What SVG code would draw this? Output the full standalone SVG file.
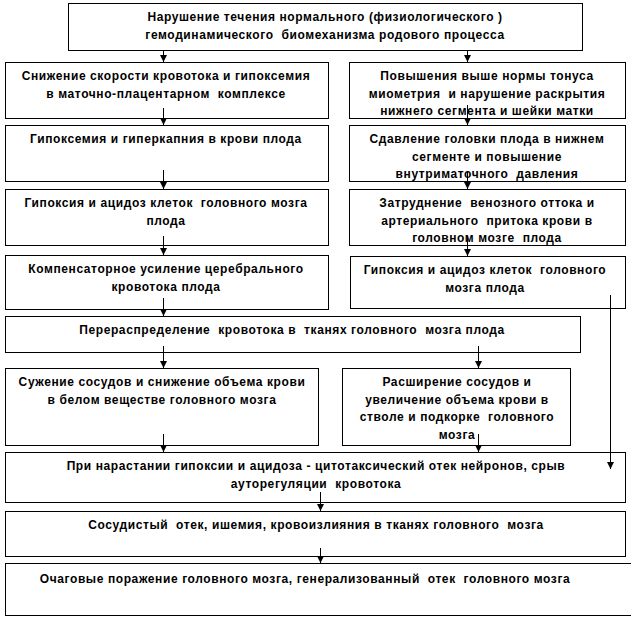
<svg xmlns="http://www.w3.org/2000/svg" width="631" height="618" viewBox="0 0 631 618" xml:space="preserve">
<style>
rect{fill:#fff;stroke:#000;stroke-width:1}
text{font-family:"Liberation Sans",Arial,sans-serif;font-weight:bold;font-size:12px;letter-spacing:0.6px;fill:#000;text-anchor:middle;white-space:pre}
.c line{stroke:#000;stroke-width:1;marker-end:url(#a)}
</style>
<defs>
<marker id="a" viewBox="0 0 8 8" refX="8" refY="4" markerWidth="7" markerHeight="7" markerUnits="userSpaceOnUse" orient="auto"><path d="M0,0 L8,4 L0,8 z" fill="#000"/></marker>
</defs>
<rect x="0" y="0" width="631" height="618" style="stroke:none"/>
<g id="n1"><rect x="68.5" y="3.5" width="514" height="47"/><text x="325" y="21">Нарушение течения нормального (физиологического )</text><text x="325" y="39">гемодинамического  биомеханизма родового процесса</text></g>
<g id="n2"><rect x="5.5" y="62.5" width="323" height="56"/><text x="166" y="80">Снижение скорости кровотока и гипоксемия</text><text x="166" y="97.5">в маточно-плацентарном  комплексе</text></g>
<g id="n3"><rect x="349.5" y="62.5" width="276" height="56"/><text x="487" y="80">Повышения выше нормы тонуса</text><text x="487" y="97.5">миометрия  и нарушение раскрытия</text><text x="487" y="115">нижнего сегмента и шейки матки</text></g>
<g id="n4"><rect x="5.5" y="125.5" width="323" height="56"/><text x="166" y="143">Гипоксемия и гиперкапния в крови плода</text></g>
<g id="n5"><rect x="349.5" y="125.5" width="276" height="56"/><text x="487" y="143">Сдавление головки плода в нижнем</text><text x="487" y="160.5">сегменте и повышение</text><text x="487" y="178">внутриматочного  давления</text></g>
<g id="n6"><rect x="5.5" y="189.5" width="323" height="56"/><text x="166" y="207">Гипоксия и ацидоз клеток  головного мозга</text><text x="166" y="224.5">плода</text></g>
<g id="n7"><rect x="349.5" y="189.5" width="276" height="56"/><text x="487" y="207">Затруднение  венозного оттока и</text><text x="487" y="224.5">артериального  притока крови в</text><text x="487" y="242">головном мозге  плода</text></g>
<g id="n8"><rect x="5.5" y="255.5" width="323" height="54"/><text x="166" y="273">Компенсаторное усиление церебрального</text><text x="166" y="290.5">кровотока плода</text></g>
<g id="n9"><rect x="350.5" y="256.5" width="275" height="52"/><text x="485" y="274">Гипоксия и ацидоз клеток  головного</text><text x="485" y="291.5">мозга плода</text></g>
<g id="n10"><rect x="5.5" y="316.5" width="575" height="36"/><text x="292" y="334">Перераспределение  кровотока в  тканях головного  мозга плода</text></g>
<g id="n11"><rect x="5.5" y="368.5" width="313" height="77"/><text x="162" y="386">Сужение сосудов и снижение объема крови</text><text x="162" y="403.5">в белом веществе головного мозга</text></g>
<g id="n12"><rect x="342.5" y="368.5" width="228" height="77"/><text x="457" y="386">Расширение сосудов и</text><text x="457" y="403.5">увеличение объема крови в</text><text x="457" y="421">стволе и подкорке  головного</text><text x="457" y="438.5">мозга</text></g>
<g id="n13"><rect x="5.5" y="452.5" width="620" height="50"/><text x="316" y="470">При нарастании гипоксии и ацидоза - цитотаксический отек нейронов, срыв</text><text x="316" y="487.5">ауторегуляции  кровотока</text></g>
<g id="n14"><rect x="5.5" y="511.5" width="620" height="45"/><text x="316" y="529">Сосудистый  отек, ишемия, кровоизлияния в тканях головного  мозга</text></g>
<g id="n15"><rect x="5.5" y="563.5" width="630" height="52"/><text x="305" y="583">Очаговые поражение головного мозга, генерализованный  отек  головного мозга</text></g>
<g class="c" id="connectors">
<line x1="163.5" y1="50" x2="163.5" y2="62"/>
<line x1="467.5" y1="50" x2="467.5" y2="62"/>
<line x1="163.5" y1="108" x2="163.5" y2="125"/>
<line x1="163.5" y1="170" x2="163.5" y2="189"/>
<line x1="163.5" y1="236" x2="163.5" y2="255"/>
<line x1="163.5" y1="298" x2="163.5" y2="316"/>
<line x1="467.5" y1="105" x2="467.5" y2="125"/>
<line x1="467.5" y1="172" x2="467.5" y2="189"/>
<line x1="467.5" y1="236" x2="467.5" y2="256"/>
<line x1="610.5" y1="295" x2="610.5" y2="469"/>
<line x1="163.5" y1="346" x2="163.5" y2="368"/>
<line x1="478.5" y1="346" x2="478.5" y2="368"/>
<line x1="163.5" y1="434" x2="163.5" y2="452"/>
<line x1="478.5" y1="434" x2="478.5" y2="452"/>
<line x1="320.5" y1="492" x2="320.5" y2="511"/>
<line x1="320.5" y1="548" x2="320.5" y2="563"/>
</g>
</svg>
